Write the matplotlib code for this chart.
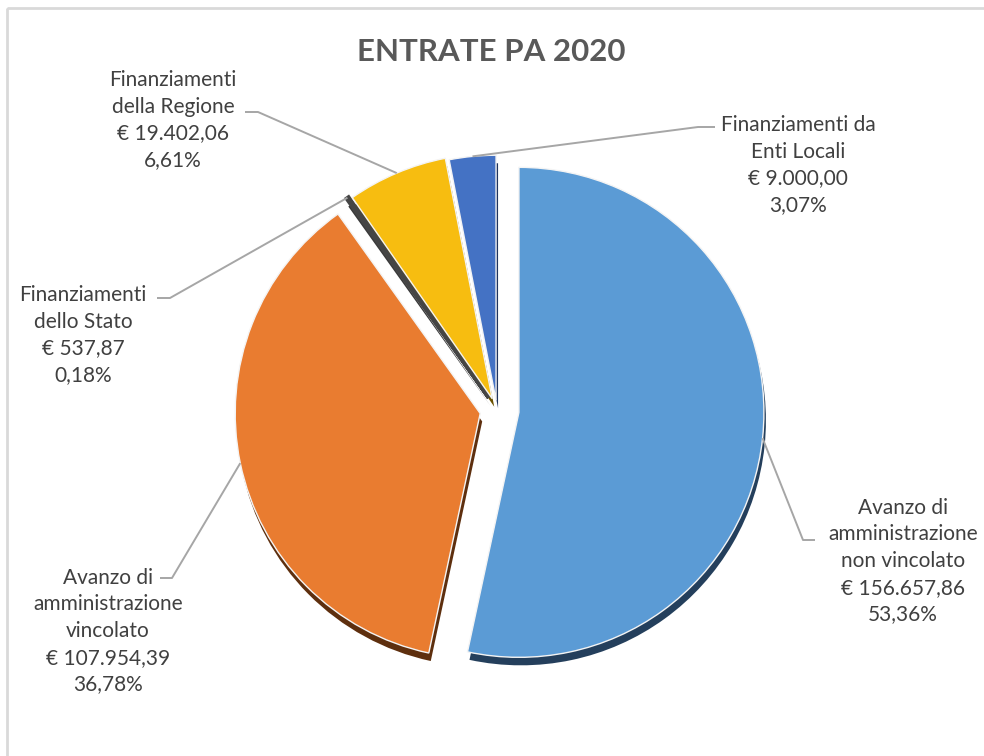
import matplotlib
matplotlib.use("Agg")
import matplotlib.pyplot as plt
from matplotlib.patches import Rectangle
import numpy as np

# dati del grafico
voci = ["Avanzo di\namministrazione\nnon vincolato", "Avanzo di\namministrazione\nvincolato",
        "Finanziamenti\ndello Stato", "Finanziamenti\ndella Regione", "Finanziamenti da\nEnti Locali"]
importi = [156657.86, 107954.39, 537.87, 19402.06, 9000.00]
percentuali = ["53,36%", "36,78%", "0,18%", "6,61%", "3,07%"]

colori = ["#5B9BD5", "#E97C30", "#454545", "#F7BD10", "#4472C4"]
colori_bordo = ["#243F5C", "#5E2F0E", "#3A3A3A", "#6B5200", "#1F3460"]
esplosione = [0.09, 0.07, 0.06, 0.05, 0.04]  # frazione del raggio

# posizione etichette (centro del blocco) e punti del richiamo
pos_etichette = [(903, 561), (108, 631), (83, 335), (173, 120), (798, 165)]
gomito = [(803, 540), (172, 578), (170, 298), (258, 112), (698, 127)]
fine = [(815, 540), (160, 578), (157, 298), (245, 112), (715, 127)]

plt.rcParams['font.family'] = ['Lato', 'DejaVu Sans']

def euro(v):
    s = f"{v:,.2f}"
    return "€ " + s.replace(",", "X").replace(".", ",").replace("X", ".")

fig = plt.figure(figsize=(9.84, 7.56), dpi=100)
ax = fig.add_axes([0, 0, 1, 1])

C = (497, 410)
R = 245
espl = [e * R for e in esplosione]

# bordo "3D" sotto le fette
ax.pie(importi, explode=espl, colors=colori_bordo, startangle=-90, counterclock=True,
       radius=R, center=(C[0] + 2, C[1] + 8), wedgeprops=dict(linewidth=0))
wedges, _ = ax.pie(importi, explode=espl, colors=colori, startangle=-90, counterclock=True,
                   radius=R, center=C, wedgeprops=dict(linewidth=1, edgecolor="#F4F4F4"))
wedges[2].set_linewidth(2.5)
wedges[2].set_edgecolor("#454545")

for i, w in enumerate(wedges):
    mid = np.deg2rad((w.theta1 + w.theta2) / 2)
    px = w.center[0] + w.r * np.cos(mid)
    py = w.center[1] + w.r * np.sin(mid)
    ax.plot([px, gomito[i][0], fine[i][0]], [py, gomito[i][1], fine[i][1]],
            color="#A6A6A6", lw=1.4, solid_capstyle="butt")
    testo = voci[i] + "\n" + euro(importi[i]) + "\n" + percentuali[i]
    ax.text(pos_etichette[i][0], pos_etichette[i][1], testo, ha="center", va="center",
            multialignment="center", fontsize=15, color="#404040", linespacing=1.42)

ax.text(491, 52, "ENTRATE PA 2020", ha="center", va="center", fontsize=22.5,
        fontweight="bold", color="#595959")

ax.add_patch(Rectangle((7, 8), 1000, 800, fill=False, edgecolor="#D9D9D9", lw=2))

ax.set_xlim(0, 984)
ax.set_ylim(756, 0)
ax.set_aspect("auto")
ax.axis("off")

fig.savefig("out.png", dpi=100)
